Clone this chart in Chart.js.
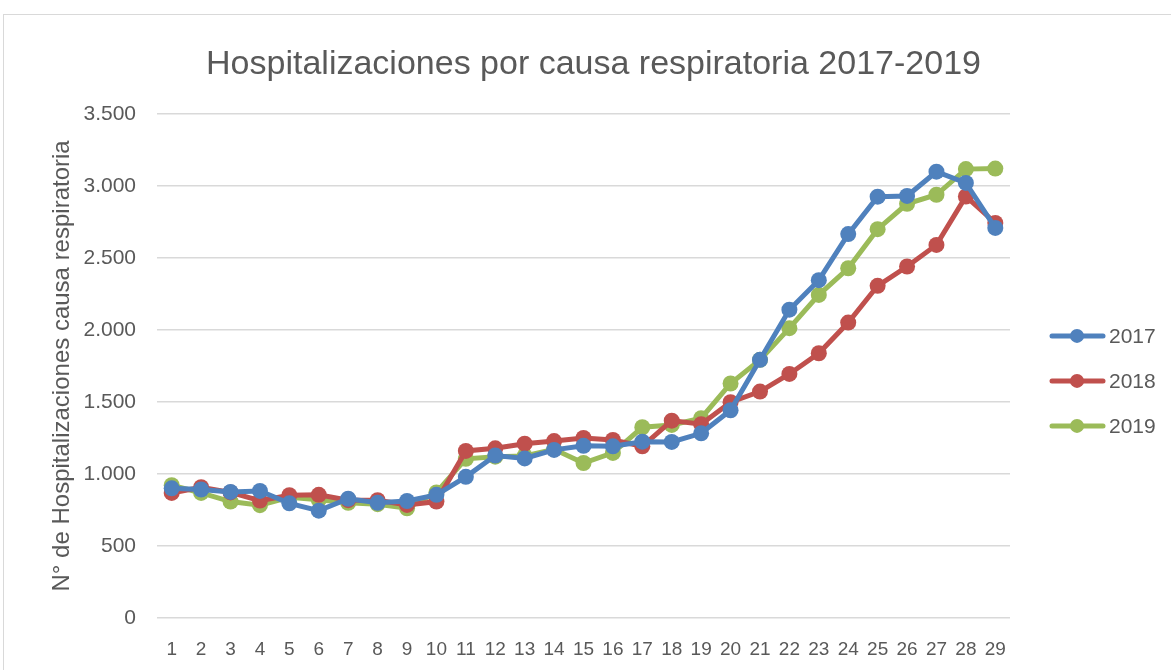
<!DOCTYPE html>
<html>
<head>
<meta charset="utf-8">
<script src="https://cdn.jsdelivr.net/npm/chart.js@4.4.0/dist/chart.umd.min.js"></script>
<style>
    html, body { margin: 0; padding: 0; background: #fff; }
    #frame { position: absolute; left: 3px; top: 14px; width: 1200px; height: 700px; border: 1px solid #d9d9d9; }
    #wrap { position: absolute; left: 0; top: 0; width: 1171px; height: 670px; }
</style>
</head>
<body>
<div id="frame"></div>
<div id="wrap"><canvas id="chart"></canvas></div>
<script>
// Semanas epidemiologicas
const weeks = ['1','2','3','4','5','6','7','8','9','10','11','12','13','14','15',
               '16','17','18','19','20','21','22','23','24','25','26','27','28','29'];

const series2017 = [900, 892, 875, 882, 796, 745, 828, 800, 812, 855, 980, 1128, 1108, 1167, 1195,
                    1192, 1224, 1222, 1282, 1442, 1792, 2140, 2345, 2665, 2925, 2930, 3098, 3020, 2708];
const series2018 = [868, 908, 872, 815, 852, 855, 818, 818, 785, 808, 1160, 1178, 1210, 1228, 1250,
                    1236, 1192, 1370, 1345, 1498, 1572, 1694, 1838, 2051, 2306, 2440, 2590, 2926, 2742];
const series2019 = [922, 868, 808, 783, 838, 820, 800, 790, 762, 872, 1105, 1120, 1125, 1171, 1076,
                    1146, 1324, 1340, 1387, 1628, 1792, 2012, 2243, 2428, 2699, 2875, 2938, 3116, 3120];

const seriesNames = ['2017', '2018', '2019'];
const yTickValues = [0, 500, 1000, 1500, 2000, 2500, 3000, 3500];

const FONT = "'Liberation Sans', sans-serif";
const TEXT = '#595959';
const GRID = '#d9d9d9';
const colors = ['#4F81BD', '#C0504D', '#9BBB59'];

function fmtThousands(v) {
    return String(v).replace(/\B(?=(\d{3})+(?!\d))/g, '.');
}

// Excel-style legend: short line with a dot, drawn in the reserved right strip
const sideLegend = {
    id: 'sideLegend',
    afterDraw(chart) {
        const ctx = chart.ctx;
        const area = chart.chartArea;
        const x0 = area.right + 42;
        const midY = (area.top + area.bottom) / 2 + 15;
        const step = 45;
        chart.data.datasets.forEach((ds, i) => {
            const y = midY + (i - 1) * step;
            ctx.save();
            ctx.strokeStyle = ds.borderColor;
            ctx.lineWidth = 5;
            ctx.lineCap = 'round';
            ctx.beginPath();
            ctx.moveTo(x0, y);
            ctx.lineTo(x0 + 51, y);
            ctx.stroke();
            ctx.fillStyle = ds.borderColor;
            ctx.beginPath();
            ctx.arc(x0 + 25, y, 7, 0, Math.PI * 2);
            ctx.fill();
            ctx.fillStyle = TEXT;
            ctx.font = '21px ' + FONT;
            ctx.textBaseline = 'middle';
            ctx.fillText(ds.label, x0 + 57, y + 1);
            ctx.restore();
        });
    }
};

const datasets = [series2017, series2018, series2019].map((data, i) => ({
    label: seriesNames[i],
    data: data,
    borderColor: colors[i],
    backgroundColor: colors[i],
    borderWidth: 5,
    pointRadius: 8,
    pointBorderWidth: 0,
    pointBackgroundColor: colors[i],
    tension: 0,
    yAxisID: 'y'
}));

new Chart(document.getElementById('chart'), {
    type: 'line',
    data: { labels: weeks, datasets: datasets },
    plugins: [sideLegend],
    options: {
        responsive: true,
        maintainAspectRatio: false,
        animation: false,
        layout: { padding: { left: 16, right: 0, top: 0, bottom: 0 } },
        plugins: {
            legend: { display: false },
            tooltip: { enabled: false },
            title: {
                display: true,
                text: 'Hospitalizaciones por causa respiratoria 2017-2019',
                color: TEXT,
                font: { family: FONT, size: 34, weight: 'normal', lineHeight: 1.2 },
                padding: { top: 44, bottom: 29 }
            }
        },
        scales: {
            x: {
                offset: true,
                grid: { display: false, offset: true },
                border: { display: false },
                ticks: {
                    color: TEXT,
                    font: { family: FONT, size: 19 },
                    padding: 12,
                    maxRotation: 0,
                    autoSkip: false
                },
                afterFit: s => { s.height = 52; }
            },
            y: {
                min: 0,
                max: 3500,
                afterBuildTicks: s => { s.ticks = yTickValues.map(v => ({ value: v })); },
                grid: { color: GRID, lineWidth: 1.5, drawTicks: false },
                border: { display: false },
                ticks: {
                    color: TEXT,
                    font: { family: FONT, size: 21 },
                    padding: 21,
                    callback: v => fmtThousands(v)
                },
                title: {
                    display: true,
                    text: 'N° de Hospitalizaciones causa respiratoria',
                    color: TEXT,
                    font: { family: FONT, size: 24 },
                    padding: { top: 32, bottom: 0 }
                },
                afterFit: s => { s.width = 141; }
            },
            legendSpace: {
                position: 'right',
                display: true,
                grid: { display: false },
                border: { display: false },
                ticks: { display: false },
                afterFit: s => { s.width = 161; }
            }
        }
    }
});
</script>
</body>
</html>
